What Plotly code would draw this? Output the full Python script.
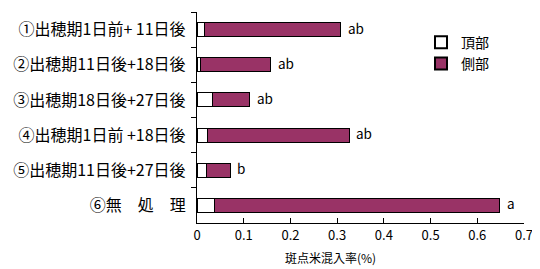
import plotly.graph_objects as go

categories = ["①出穂期1日前+ 11日後", "②出穂期11日後+18日後", "③出穂期18日後+27日後",
              "④出穂期1日前 +18日後", "⑤出穂期11日後+27日後", "⑥無　処　理"]
top_vals = [0.015, 0.008, 0.034, 0.022, 0.021, 0.037]
side_vals = [0.293, 0.150, 0.079, 0.304, 0.050, 0.611]
sig_labels = ["ab", "ab", "ab", "ab", "b", "a"]
tick_vals = [0, 0.1, 0.2, 0.3, 0.4, 0.5, 0.6, 0.7]
tick_text = ["0", "0.1", "0.2", "0.3", "0.4", "0.5", "0.6", "0.7"]

FONT = "Noto Sans CJK JP, Arial, sans-serif"

fig = go.Figure()
fig.add_trace(go.Bar(y=categories, x=top_vals, orientation="h", name="頂部",
                     marker=dict(color="white", line=dict(color="black", width=1))))
fig.add_trace(go.Bar(y=categories, x=side_vals, orientation="h", name="側部",
                     marker=dict(color="#993366", line=dict(color="black", width=1))))

for c, t, s, lab in zip(categories, top_vals, side_vals, sig_labels):
    fig.add_annotation(x=t + s, y=c, text=lab, showarrow=False, xanchor="left",
                       xshift=5, yshift=2, font=dict(size=13.5, color="black", family=FONT))

fig.add_annotation(x=0.286, y=-0.165, xref="x", yref="paper", text="斑点米混入率(%)",
                   showarrow=False, yanchor="middle",
                   font=dict(size=12, color="black", family=FONT))

fig.update_layout(
    barmode="stack", bargap=0.6,
    width=532, height=261,
    margin=dict(l=189, r=16, t=4, b=46, autoexpand=False),
    plot_bgcolor="white", paper_bgcolor="white",
    font=dict(family=FONT, size=13, color="black"),
    showlegend=True,
    legend=dict(x=0.685, y=0.93, xanchor="left", yanchor="top", bgcolor="rgba(0,0,0,0)",
                font=dict(size=14), traceorder="normal", itemsizing="constant"),
    xaxis=dict(range=[0, 0.7], tickvals=tick_vals, ticktext=tick_text, ticks="inside",
               ticklen=5, tickcolor="black", showline=True, linecolor="black", linewidth=1,
               showgrid=False, zeroline=False, tickfont=dict(size=13), automargin=False,
               fixedrange=True),
    yaxis=dict(autorange="reversed", ticks="outside", tickson="boundaries", ticklen=5,
               tickcolor="black", showline=True, linecolor="black", linewidth=1,
               showgrid=False, tickfont=dict(size=16), ticksuffix="  ", automargin=False,
               fixedrange=True),
)

fig.write_html("out.html")
